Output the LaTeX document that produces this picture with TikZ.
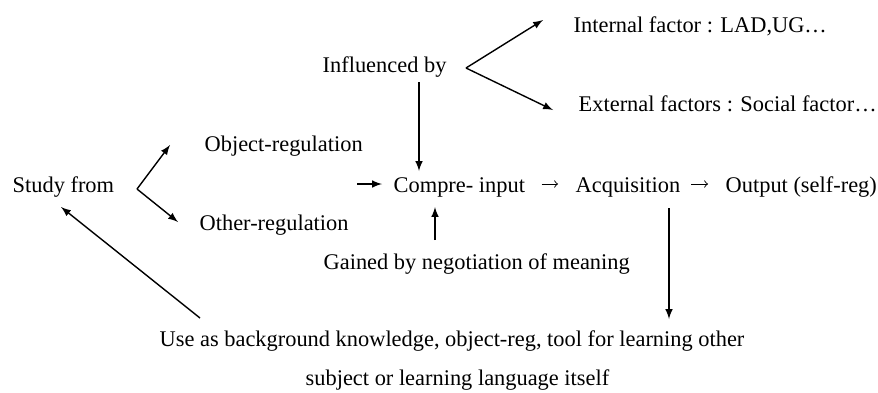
\documentclass[tikz,border=0pt]{standalone}
\usepackage{fontspec}
\setmainfont{Liberation Serif}
\usetikzlibrary{positioning}
\usetikzlibrary{calc}
\tikzset{every picture/.style={line width=0.7pt}}
\begin{document}
\begin{tikzpicture}[x=0.5pt,y=-0.5pt,tx/.style={inner sep=0,anchor=base west,font=\fontsize{11.2}{13}\selectfont},ar/.style={-latex},ta/.style={-to,line width=0.45pt}]
\useasboundingbox (0,0) rectangle (878,392);
\node (study) [tx] at (12,192) {Study from};
\node (objreg) [tx] at (204,151) {Object-regulation};
\node (othreg) [tx] at (199,230) {Other-regulation};
\node (infl) [tx] at (322,72) {Influenced by};
\node (intf) [tx] at (573,32) {Internal factor : LAD,UG…};
\node (extf) [tx] at (578,111) {External factors : Social factor…};
\node (compre) [tx] at (393,192) {Compre- input};
\node (acq) [tx] at (575,192) {Acquisition};
\node (out) [tx] at (725,192) {Output (self-reg)};
\node (gain) [tx] at (323,269) {Gained by negotiation of meaning};
\node (use) [tx] at (159,346) {Use as background knowledge, object-reg, tool for learning other};
\node (subj) [tx] at (305,385) {subject or learning language itself};
\coordinate (sfork) at (137,189);
\coordinate (objtip) at (170,145);
\coordinate (othtip) at (178,222);
\coordinate (ifork) at (466,68);
\coordinate (inttip) at (543,20);
\coordinate (exttip) at (553,110);
\coordinate (lin) at (357,184);
\coordinate (infbot) at (419,82);
\coordinate (inftip) at (419,171);
\coordinate (gaintop) at (435,240);
\coordinate (gaintip) at (435,207);
\coordinate (acqbot) at (669,208);
\coordinate (usetip) at (669,319);
\coordinate (usebot) at (200,318);
\coordinate (studytip) at (61,207);
\draw[ar] (sfork) -- (objtip);
\draw[ar] (sfork) -- (othtip);
\draw[ar] (ifork) -- (inttip);
\draw[ar] (ifork) -- (exttip);
\draw[ar,shorten >=5.5pt] (lin) -- (compre.west |- lin);
\draw[ta,shorten <=8pt,shorten >=8.5pt] (compre.east |- lin) -- (acq.west |- lin);
\draw[ta,shorten <=5.25pt,shorten >=8.5pt] (acq.east |- lin) -- (out.west |- lin);
\draw[ar] (infbot) -- (inftip);
\draw[ar] (gaintop) -- (gaintip);
\draw[ar] (acqbot) -- (usetip);
\draw[ar] (usebot) -- (studytip);
\end{tikzpicture}
\end{document}
